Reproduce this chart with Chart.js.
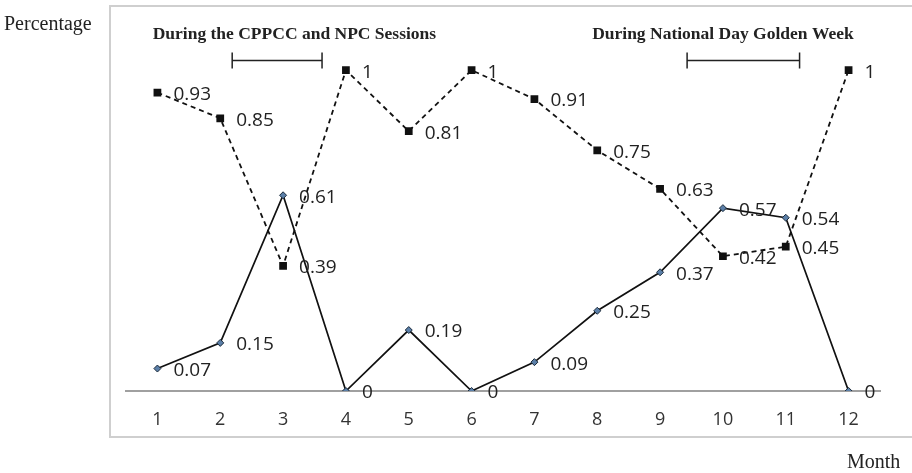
<!DOCTYPE html>
<html>
<head>
<meta charset="utf-8">
<script src="https://cdn.jsdelivr.net/npm/chart.js@4/dist/chart.umd.min.js"></script>
<style>
  html, body { margin: 0; padding: 0; background: #fff; }
</style>
</head>
<body>
<canvas id="month-chart" width="912" height="473"></canvas>
<script>
const months = ['1', '2', '3', '4', '5', '6', '7', '8', '9', '10', '11', '12'];
const solidValues = [0.07, 0.15, 0.61, 0, 0.19, 0, 0.09, 0.25, 0.37, 0.57, 0.54, 0];
const dashedValues = [0.93, 0.85, 0.39, 1, 0.81, 1, 0.91, 0.75, 0.63, 0.42, 0.45, 1];
const periodNames = ['During the CPPCC and NPC Sessions', 'During National Day Golden Week'];
// bracket spans in category-index units
const periodStart = [1.19, 8.43];
const periodEnd = [2.62, 10.22];
const periodTextAt = [2.18, 9.0];

Chart.defaults.font.family = "'Open Sans', sans-serif";

// value labels to the right of each point
const pointLabels = {
    id: 'pointLabels',
    afterDatasetsDraw(chart) {
        const ctx = chart.ctx;
        ctx.save();
        ctx.font = "19px 'Open Sans', sans-serif";
        ctx.fillStyle = '#222';
        ctx.textAlign = 'left';
        ctx.textBaseline = 'middle';
        chart.data.datasets.forEach((ds, i) => {
            chart.getDatasetMeta(i).data.forEach((pt, j) => {
                ctx.fillText(String(ds.data[j]), pt.x + 16, pt.y + 2);
            });
        });
        ctx.restore();
    }
};

// outer frame, axis titles and period brackets
const decorations = {
    id: 'decorations',
    afterDraw(chart) {
        const ctx = chart.ctx;
        const x = chart.scales.x;
        const y = chart.scales.y;
        ctx.save();
        ctx.strokeStyle = '#cfcfcf';
        ctx.lineWidth = 2;
        ctx.strokeRect(110, 6, 810, 431);

        ctx.fillStyle = '#222';
        ctx.font = "20px 'Liberation Serif', serif";
        ctx.textBaseline = 'middle';
        ctx.textAlign = 'left';
        ctx.fillText('Percentage', 4, 25);
        ctx.fillText('Month', 847, 463);

        ctx.font = "bold 17.5px 'Liberation Serif', serif";
        ctx.textAlign = 'center';
        ctx.strokeStyle = '#222';
        ctx.lineWidth = 1.5;
        periodNames.forEach((name, i) => {
            ctx.fillText(name, x.getPixelForValue(periodTextAt[i]), y.getPixelForValue(1.112));
            const x0 = x.getPixelForValue(periodStart[i]);
            const x1 = x.getPixelForValue(periodEnd[i]);
            const by = y.getPixelForValue(1.03);
            ctx.beginPath();
            ctx.moveTo(x0, by); ctx.lineTo(x1, by);
            ctx.moveTo(x0, by - 8); ctx.lineTo(x0, by + 8);
            ctx.moveTo(x1, by - 8); ctx.lineTo(x1, by + 8);
            ctx.stroke();
        });
        ctx.restore();
    }
};

new Chart(document.getElementById('month-chart').getContext('2d'), {
    type: 'line',
    data: {
        labels: months,
        datasets: [
            {
                label: 'Dashed',
                data: dashedValues,
                borderColor: '#111',
                borderWidth: 1.8,
                borderDash: [5, 4],
                pointStyle: 'rect',
                pointRadius: 4.2,
                pointBackgroundColor: '#111',
                pointBorderColor: '#111',
                tension: 0
            },
            {
                label: 'Solid',
                data: solidValues,
                borderColor: '#111',
                borderWidth: 1.7,
                pointStyle: 'rectRot',
                pointRadius: 3.5,
                pointBackgroundColor: '#5b7fa8',
                pointBorderColor: '#1a2a3a',
                pointBorderWidth: 1,
                tension: 0
            }
        ]
    },
    options: {
        responsive: false,
        animation: false,
        layout: { padding: { left: 126, right: 32, top: 6, bottom: 0 } },
        plugins: { legend: { display: false }, tooltip: { enabled: false } },
        scales: {
            x: {
                offset: true,
                grid: { display: false, drawTicks: false, offset: true },
                border: { display: true, color: '#a0a0a0', width: 2 },
                ticks: { color: '#333', font: { size: 18 }, padding: 18, maxRotation: 0 },
                afterFit: s => { s.height = 82; }
            },
            y: {
                display: false,
                min: 0,
                max: 1.2
            }
        }
    },
    plugins: [pointLabels, decorations]
});
</script>
</body>
</html>
